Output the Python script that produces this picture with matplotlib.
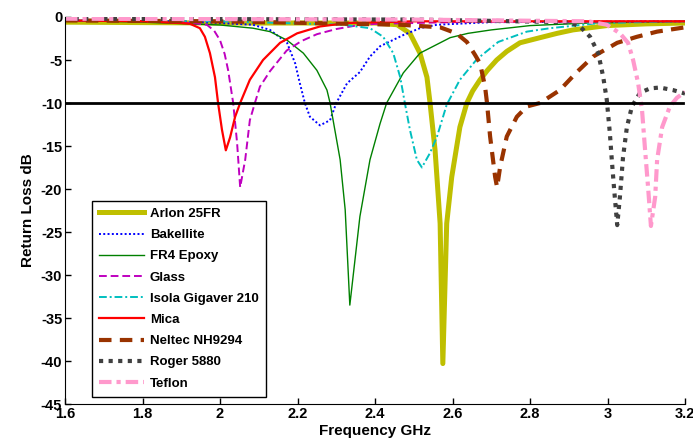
import matplotlib
matplotlib.use("Agg")
import matplotlib.pyplot as plt
from matplotlib.ticker import FormatStrFormatter

plt.rcParams['font.family'] = ['Liberation Sans', 'DejaVu Sans']
plt.rcParams['axes.unicode_minus'] = False

# values (frequency in GHz, return loss in dB)
arlon_f = [1.6, 2.0, 2.3, 2.4, 2.457, 2.49, 2.516, 2.534, 2.542, 2.555, 2.568, 2.575,
           2.585, 2.598, 2.619, 2.637, 2.652, 2.671, 2.69, 2.714, 2.74, 2.774, 2.8,
           2.826, 2.87, 2.911, 2.998, 3.1, 3.2]
arlon_db = [-0.6, -0.7, -0.7, -0.7, -0.9, -1.9, -4.2, -7.0, -10, -15.5, -24, -40.3,
            -24, -18.6, -12.8, -10, -8.6, -7.3, -6.2, -5.0, -4.0, -3.0, -2.7,
            -2.4, -1.9, -1.5, -1.0, -0.8, -0.7]

bake_f = [1.6, 1.9, 2.0, 2.085, 2.129, 2.173, 2.194, 2.206, 2.219, 2.232, 2.258, 2.284,
          2.30, 2.328, 2.361, 2.387, 2.413, 2.473, 2.516, 2.56, 2.7, 3.2]
bake_db = [-0.4, -0.5, -0.7, -0.9, -1.5, -3.0, -5.4, -7.7, -10, -11.6, -12.6, -12.0,
           -10, -7.7, -6.4, -4.6, -3.4, -2.1, -1.3, -0.9, -0.6, -0.5]

fr4_f = [1.6, 1.8, 1.95, 2.0, 2.085, 2.129, 2.173, 2.215, 2.25, 2.276, 2.284, 2.31,
         2.323, 2.335, 2.361, 2.387, 2.413, 2.43, 2.473, 2.516, 2.594, 2.64, 2.7, 2.8,
         2.95, 3.2]
fr4_db = [-0.4, -0.6, -0.85, -0.93, -1.3, -1.7, -2.7, -4.2, -6.2, -8.5, -10, -16.6,
          -22.4, -33.5, -23.2, -16.6, -12.4, -10, -6.5, -4.2, -2.4, -1.9, -1.5, -1.0,
          -0.7, -0.5]

glass_f = [1.6, 1.8, 1.93, 1.966, 1.985, 2.0, 2.012, 2.021, 2.034, 2.044, 2.052, 2.065,
           2.077, 2.09, 2.103, 2.129, 2.172, 2.21, 2.25, 2.30, 2.35, 2.4, 2.6, 3.2]
glass_db = [-0.4, -0.5, -0.7, -0.9, -1.6, -2.7, -4.3, -6.2, -10, -14.6, -19.8, -16.6,
            -12, -10, -8.1, -6.3, -3.9, -2.8, -2.0, -1.4, -1.0, -0.8, -0.6, -0.5]

isola_f = [1.6, 2.0, 2.318, 2.387, 2.421, 2.447, 2.465, 2.477, 2.49, 2.508, 2.521,
           2.542, 2.56, 2.585, 2.619, 2.663, 2.718, 2.792, 2.852, 2.98, 3.2]
isola_db = [-0.4, -0.5, -0.9, -1.3, -2.3, -4.2, -7.0, -10, -13.1, -16.6, -17.5,
            -15.8, -13.9, -10.2, -7.3, -4.9, -2.9, -1.7, -1.3, -0.7, -0.5]

mica_f = [1.6, 1.8, 1.9, 1.923, 1.948, 1.961, 1.974, 1.987, 1.995, 2.005, 2.015, 2.026,
          2.039, 2.052, 2.077, 2.111, 2.155, 2.199, 2.258, 2.328, 2.5, 2.8, 3.2]
mica_db = [-0.4, -0.5, -0.7, -0.8, -1.3, -2.3, -4.2, -7.0, -10, -13.1, -15.5, -14,
           -11.6, -10, -7.3, -5.0, -3.0, -1.9, -1.1, -0.7, -0.5, -0.5, -0.5]

neltec_f = [1.6, 2.0, 2.465, 2.568, 2.61, 2.637, 2.658, 2.671, 2.684, 2.689, 2.697,
            2.71, 2.715, 2.723, 2.74, 2.766, 2.792, 2.826, 2.877, 2.921, 2.963, 3.025,
            3.076, 3.128, 3.2]
neltec_db = [-0.4, -0.5, -0.9, -1.2, -1.9, -2.9, -4.4, -5.4, -8.1, -10, -13.9,
             -18.6, -19.8, -17.4, -13.9, -11.6, -10.4, -10, -8.5, -6.4, -4.6, -3.0,
             -2.3, -1.7, -1.2]

roger_f = [1.6, 2.5, 2.9, 2.929, 2.955, 2.976, 2.989, 2.998, 3.006, 3.011, 3.017, 3.025,
           3.032, 3.04, 3.05, 3.063, 3.084, 3.11, 3.135, 3.169, 3.2]
roger_db = [-0.2, -0.3, -0.6, -1.1, -2.3, -4.2, -7.0, -9.6, -13.5, -16.6, -20, -24.2,
            -20.9, -16.3, -12.8, -10.4, -8.8, -8.3, -8.2, -8.5, -8.9]

teflon_f = [1.6, 2.5, 2.95, 2.998, 3.032, 3.053, 3.066, 3.079, 3.089, 3.097, 3.105,
            3.112, 3.123, 3.128, 3.141, 3.161, 3.179, 3.2]
teflon_db = [-0.2, -0.3, -0.5, -0.9, -1.9, -3.0, -5.0, -7.7, -10.8, -15.5, -20,
             -24.3, -20.9, -16.6, -12.8, -10.4, -9.4, -8.7]

x_ticks = [1.6, 1.8, 2.0, 2.2, 2.4, 2.6, 2.8, 3.0, 3.2]
y_ticks = [0, -5, -10, -15, -20, -25, -30, -35, -40, -45]

fig = plt.figure(figsize=(6.93, 4.45), dpi=100)
ax = fig.add_axes([0.0938, 0.0921, 0.8947, 0.8697])

ax.plot(arlon_f, arlon_db, color='#BFBF00', lw=3.6, label='Arlon 25FR')
ax.plot(bake_f, bake_db, color='#0000FF', lw=1.4, ls=(0, (1, 1.2)), label='Bakellite')
ax.plot(fr4_f, fr4_db, color='#008000', lw=1.0, label='FR4 Epoxy')
ax.plot(glass_f, glass_db, color='#BF00BF', lw=1.4, ls=(0, (4, 2)), label='Glass')
ax.plot(isola_f, isola_db, color='#00BFBF', lw=1.4, ls=(0, (4, 1.5, 1, 1.5)),
        label='Isola Gigaver 210')
ax.plot(mica_f, mica_db, color='#FF0000', lw=1.6, label='Mica')
ax.plot(neltec_f, neltec_db, color='#993300', lw=3.0, ls=(0, (3, 2)), label='Neltec NH9294')
ax.plot(roger_f, roger_db, color='#404040', lw=3.0, ls=(0, (1, 1.3)), label='Roger 5880')
ax.plot(teflon_f, teflon_db, color='#FF99CC', lw=3.0, ls=(0, (3, 1.2, 1, 1.2)), label='Teflon')

ax.axhline(-10, xmax=0.997, color='black', lw=2.0)

ax.set_xlim(1.6, 3.2)
ax.set_ylim(-45, 0)
ax.set_xticks(x_ticks)
ax.set_yticks(y_ticks)
ax.xaxis.set_major_formatter(FormatStrFormatter('%g'))
ax.tick_params(direction='in', length=4, width=1, labelsize=10.5, pad=2)
for lab in ax.get_xticklabels() + ax.get_yticklabels():
    lab.set_fontweight('bold')
ax.spines['top'].set_visible(False)
ax.spines['right'].set_visible(False)

ax.set_xlabel('Frequency GHz', fontsize=11, fontweight='bold', labelpad=2)
ax.set_ylabel('Return Loss dB', fontsize=11, fontweight='bold', labelpad=4)

leg = ax.legend(loc='lower left', bbox_to_anchor=(0.037, 0.008),
                prop={'weight': 'bold', 'size': 9.5}, handlelength=3.4,
                labelspacing=0.68, fancybox=False, framealpha=1, edgecolor='black',
                borderpad=0.55, borderaxespad=0.3, handletextpad=0.45)
leg.get_frame().set_linewidth(1.0)

fig.savefig('out.png', dpi=100)
